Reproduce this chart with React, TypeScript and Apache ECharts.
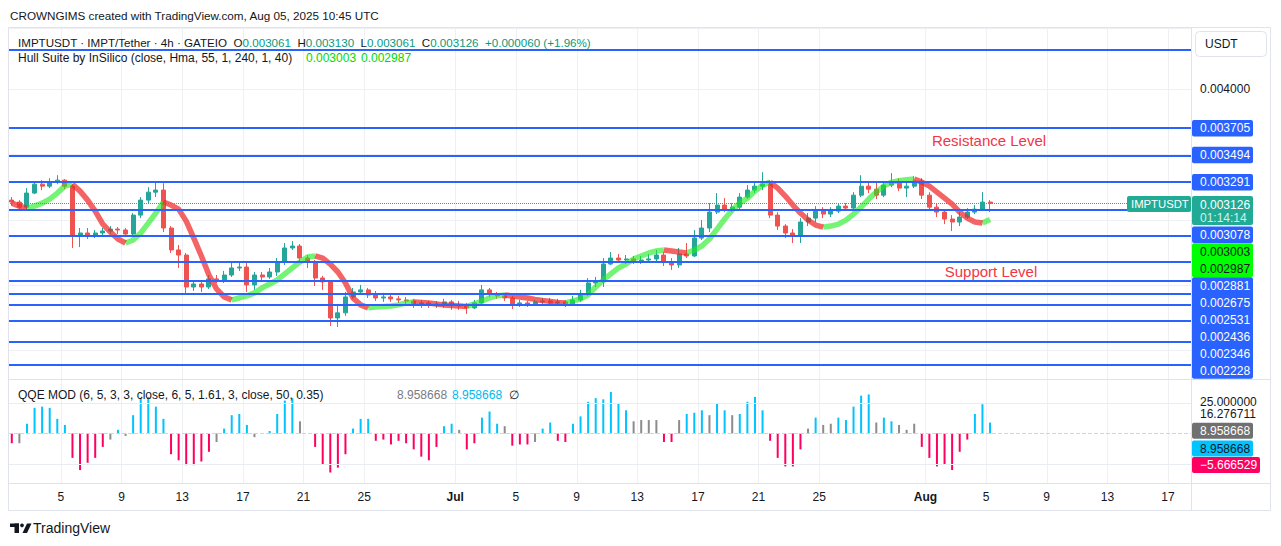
import React, { useEffect, useRef } from "react";
import * as echarts from "echarts";

// ---------- time slots (12h candles, aggregated reading of the 4h chart) ----------
const SLOT_START_UTC = Date.UTC(2025, 5, 1, 12, 0, 0);
const SLOT_MS = 12 * 3600 * 1000;
const SLOT_TOTAL = 156;
const categories: string[] = Array.from({ length: SLOT_TOTAL }, (_, k) =>
  new Date(SLOT_START_UTC + k * SLOT_MS).toISOString()
);
const tickDays = [5, 9, 13, 17, 21, 25];
const monthNames = ["Jan", "Feb", "Mar", "Apr", "May", "Jun", "Jul", "Aug", "Sep", "Oct", "Nov", "Dec"];

// ---------- candles: [open, close, low, high] ----------
const candles: number[][] = [
  [0.003151, 0.003136, 0.003113, 0.003174], [0.003136, 0.003097, 0.003082, 0.003151],
  [0.003097, 0.003205, 0.003082, 0.003243], [0.003205, 0.003273, 0.003197, 0.003296],
  [0.003273, 0.003258, 0.003228, 0.003304], [0.003258, 0.003289, 0.003243, 0.003319],
  [0.003289, 0.003304, 0.003273, 0.003342], [0.003304, 0.003258, 0.003235, 0.003312],
  [0.003258, 0.002883, 0.002784, 0.003273], [0.002883, 0.002899, 0.002791, 0.002937],
  [0.002899, 0.002883, 0.002853, 0.002937], [0.002883, 0.002899, 0.00286, 0.002922],
  [0.002899, 0.002914, 0.002876, 0.002937], [0.002914, 0.002929, 0.002891, 0.002952],
  [0.002929, 0.002922, 0.002891, 0.002944], [0.002922, 0.002891, 0.002868, 0.002937],
  [0.002891, 0.003036, 0.002876, 0.003052], [0.003036, 0.003151, 0.003013, 0.003174],
  [0.003151, 0.003212, 0.003128, 0.00325], [0.003212, 0.003228, 0.003174, 0.003296],
  [0.003228, 0.002937, 0.002906, 0.003281], [0.002937, 0.002769, 0.002746, 0.002952],
  [0.002769, 0.00273, 0.002631, 0.002807], [0.00273, 0.002485, 0.002424, 0.002746],
  [0.002485, 0.002508, 0.002455, 0.002539], [0.002508, 0.002485, 0.002447, 0.002531],
  [0.002485, 0.002547, 0.00247, 0.002577], [0.002547, 0.002539, 0.002516, 0.002577],
  [0.002539, 0.002577, 0.002516, 0.002608], [0.002577, 0.002631, 0.002562, 0.002669],
  [0.002631, 0.002638, 0.002608, 0.002669], [0.002638, 0.002501, 0.002447, 0.002669],
  [0.002501, 0.002577, 0.002463, 0.0026], [0.002577, 0.002562, 0.002531, 0.0026],
  [0.002562, 0.0026, 0.002547, 0.002631], [0.0026, 0.002677, 0.00257, 0.002707],
  [0.002677, 0.002784, 0.002654, 0.002822], [0.002784, 0.002799, 0.002769, 0.002837],
  [0.002799, 0.002707, 0.002677, 0.002814], [0.002707, 0.002677, 0.002631, 0.00273],
  [0.002677, 0.002554, 0.002493, 0.002692], [0.002554, 0.002524, 0.002463, 0.00257],
  [0.002524, 0.002248, 0.002187, 0.002531], [0.002248, 0.002287, 0.002179, 0.00234],
  [0.002287, 0.002409, 0.002264, 0.002447], [0.002409, 0.002447, 0.002394, 0.002478],
  [0.002447, 0.002463, 0.002432, 0.002501], [0.002463, 0.002424, 0.002401, 0.002478],
  [0.002424, 0.002401, 0.002378, 0.002455], [0.002401, 0.002409, 0.002371, 0.00244],
  [0.002409, 0.002394, 0.002371, 0.002424], [0.002394, 0.002386, 0.002363, 0.002417],
  [0.002386, 0.002378, 0.002355, 0.002409], [0.002378, 0.002355, 0.002325, 0.002394],
  [0.002355, 0.002363, 0.002325, 0.002386], [0.002363, 0.002348, 0.002325, 0.002378],
  [0.002348, 0.002355, 0.002325, 0.002378], [0.002355, 0.002371, 0.002325, 0.002394],
  [0.002371, 0.002348, 0.00231, 0.002386], [0.002348, 0.00234, 0.00231, 0.002378],
  [0.00234, 0.002325, 0.002279, 0.002363], [0.002325, 0.002363, 0.002317, 0.002386],
  [0.002363, 0.002463, 0.002348, 0.002501], [0.002463, 0.002432, 0.002409, 0.002478],
  [0.002432, 0.002417, 0.002394, 0.002447], [0.002417, 0.002401, 0.002378, 0.00244],
  [0.002401, 0.002348, 0.002317, 0.002417], [0.002348, 0.002363, 0.002332, 0.002386],
  [0.002363, 0.002355, 0.002332, 0.002378], [0.002355, 0.002371, 0.00234, 0.002386],
  [0.002371, 0.002378, 0.002348, 0.002401], [0.002378, 0.002363, 0.002348, 0.002401],
  [0.002363, 0.002371, 0.00234, 0.002394], [0.002371, 0.002355, 0.002332, 0.002386],
  [0.002355, 0.002386, 0.002348, 0.002417], [0.002386, 0.002432, 0.002371, 0.002463],
  [0.002432, 0.002516, 0.002417, 0.002554], [0.002516, 0.002524, 0.002485, 0.002562],
  [0.002524, 0.002661, 0.002485, 0.002707], [0.002661, 0.002707, 0.002654, 0.002753],
  [0.002707, 0.002692, 0.002669, 0.002738], [0.002692, 0.0027, 0.002661, 0.00273],
  [0.0027, 0.002684, 0.002661, 0.002723], [0.002684, 0.002692, 0.002661, 0.002723],
  [0.002692, 0.0027, 0.002669, 0.002738], [0.0027, 0.00273, 0.002677, 0.002769],
  [0.00273, 0.002677, 0.002646, 0.002753], [0.002677, 0.002654, 0.002616, 0.002707],
  [0.002654, 0.002738, 0.002631, 0.002784], [0.002738, 0.002723, 0.002707, 0.002822],
  [0.002723, 0.00286, 0.002715, 0.002922], [0.00286, 0.002937, 0.002845, 0.002998],
  [0.002937, 0.003059, 0.002906, 0.003128], [0.003059, 0.003113, 0.003044, 0.003205],
  [0.003113, 0.003082, 0.003059, 0.003166], [0.003082, 0.003097, 0.003059, 0.003128],
  [0.003097, 0.003174, 0.003082, 0.003205], [0.003174, 0.003228, 0.003159, 0.003266],
  [0.003228, 0.003258, 0.003205, 0.003289], [0.003258, 0.003273, 0.003228, 0.003365],
  [0.003273, 0.003036, 0.003013, 0.003304], [0.003036, 0.002952, 0.002922, 0.003059],
  [0.002952, 0.002899, 0.00286, 0.002967], [0.002899, 0.002883, 0.002822, 0.002929],
  [0.002883, 0.002983, 0.002822, 0.003013], [0.002983, 0.003013, 0.002952, 0.003052],
  [0.003013, 0.003075, 0.002983, 0.003105], [0.003075, 0.003044, 0.003013, 0.003097],
  [0.003044, 0.003067, 0.003021, 0.003097], [0.003067, 0.003105, 0.003052, 0.003128],
  [0.003105, 0.00309, 0.003075, 0.003128], [0.00309, 0.003189, 0.003082, 0.003212],
  [0.003189, 0.003258, 0.003174, 0.003342], [0.003258, 0.003235, 0.003205, 0.003289],
  [0.003235, 0.003189, 0.003159, 0.003289], [0.003189, 0.003266, 0.003174, 0.003289],
  [0.003266, 0.003289, 0.00325, 0.003358], [0.003289, 0.003243, 0.00322, 0.003319],
  [0.003243, 0.003258, 0.003174, 0.003289], [0.003258, 0.003296, 0.003243, 0.003335],
  [0.003296, 0.003189, 0.003159, 0.003319], [0.003189, 0.003097, 0.003075, 0.003212],
  [0.003097, 0.003059, 0.003021, 0.003128], [0.003059, 0.003006, 0.002967, 0.003075],
  [0.003006, 0.002983, 0.002914, 0.003036], [0.002983, 0.003021, 0.002952, 0.003059],
  [0.003021, 0.003059, 0.003006, 0.00309], [0.003059, 0.003082, 0.003044, 0.003113],
  [0.003082, 0.003136, 0.003067, 0.003212], [0.003136, 0.003126, 0.003059, 0.003151],
];

// ---------- Hull Suite (HMA 55) ----------
const hull: number[] = [
  0.003128, 0.003105, 0.00309, 0.003105, 0.003128, 0.003159, 0.003205, 0.003258, 0.003273, 0.00322,
  0.003151, 0.003067, 0.002967, 0.002906, 0.002853, 0.002822, 0.002845, 0.002899, 0.002975, 0.003052,
  0.003136, 0.003113, 0.003082, 0.00299, 0.00286, 0.002723, 0.002577, 0.00247, 0.002409, 0.002386,
  0.002401, 0.002417, 0.00244, 0.002478, 0.002508, 0.002539, 0.002585, 0.002631, 0.002677, 0.002715,
  0.002723, 0.002707, 0.002661, 0.0026, 0.002516, 0.002401, 0.002348, 0.002325, 0.002332, 0.002336,
  0.00234, 0.002348, 0.002363, 0.002371, 0.002367, 0.002363, 0.002355, 0.002348, 0.002344, 0.00234,
  0.002336, 0.002355, 0.002378, 0.002401, 0.002417, 0.002424, 0.002417, 0.002409, 0.002401, 0.00239,
  0.002382, 0.002375, 0.002367, 0.002363, 0.002378, 0.002394, 0.002424, 0.002485, 0.002539, 0.002585,
  0.002631, 0.002661, 0.0027, 0.002723, 0.002746, 0.002761, 0.002769, 0.002761, 0.002753, 0.002746,
  0.002769, 0.002799, 0.002853, 0.002929, 0.003006, 0.003075, 0.003128, 0.003166, 0.00322, 0.003266,
  0.003289, 0.003243, 0.003182, 0.003113, 0.003052, 0.002998, 0.00296, 0.002944, 0.002952, 0.002967,
  0.002998, 0.003044, 0.003097, 0.003159, 0.003212, 0.003258, 0.003289, 0.0033, 0.003308, 0.003312,
  0.003289, 0.003258, 0.003212, 0.003166, 0.00312, 0.003059, 0.003013, 0.002983, 0.002975, 0.003003,
];

// ---------- QQE MOD histogram ----------
const qqe: number[] = [
  -8, -8, 8, 21, 22, 21, 12, 7, -20, -30,
  -24, -20, -11, -5, 3, -2, 15, 29, 30, 22,
  12, -17, -22, -26, -26, -23, -15, -7, 4, 15,
  16, 7, -3, 0, 2, 16, 27, 29, 10, 0,
  -11, -25, -32, -28, -17, 4, 12, 12, -6, -5,
  -9, -6, -8, -13, -19, -22, -11, 6, 8, 3,
  -13, -8, 13, 18, 8, 6, -10, -9, -9, -7,
  4, 9, -6, -7, 8, 14, 26, 29, 28, 34,
  25, 19, 10, 11, 11, 11, -7, -7, 11, 16,
  17, 19, 15, 25, 19, 15, 16, 26, 30, 19,
  -6, -20, -27, -27, -13, 4, 13, 7, 8, 13,
  11, 22, 31, 32, 9, 13, 10, 7, 3, 8,
  -11, -20, -27, -25, -30, -15, -5, 16, 24, 8.958668,
];
// b = above upper band (blue), m = below lower band (magenta), g = neutral (gray)
const qqeState: string[] = [
  "m", "g", "b", "b", "b", "b", "b", "b", "m", "m",
  "m", "m", "m", "g", "b", "g", "b", "b", "b", "b",
  "b", "m", "m", "m", "m", "m", "m", "g", "b", "b",
  "b", "b", "g", "g", "b", "b", "b", "b", "g", "g",
  "m", "m", "m", "m", "m", "b", "b", "b", "m", "m",
  "m", "m", "m", "m", "m", "m", "m", "b", "b", "g",
  "m", "m", "b", "b", "b", "g", "m", "m", "m", "g",
  "b", "b", "m", "m", "b", "b", "b", "b", "b", "b",
  "b", "b", "g", "g", "g", "g", "m", "m", "g", "b",
  "b", "b", "g", "b", "b", "g", "b", "b", "b", "b",
  "m", "m", "m", "m", "m", "g", "b", "g", "g", "b",
  "b", "b", "b", "b", "g", "b", "b", "g", "g", "g",
  "m", "m", "m", "m", "m", "m", "m", "b", "b", "b",
];

// ---------- horizontal levels ----------
const levels: number[] = [
  0.0043, 0.003705, 0.003494, 0.003291, 0.003078, 0.002881, 0.002675,
  0.002531, 0.002436, 0.002346, 0.002228, 0.002065, 0.001889,
];
const lastPrice = 0.003126;

const FONT = '"Liberation Sans", Arial, Helvetica, sans-serif';
const UP = "#26a69a";
const DOWN = "#ef5350";
const LEVEL_BLUE = "#2962ff";
const TEAL = "#22ab94";
const QQE_COLORS: Record<string, string> = { b: "#00c3ff", m: "#ff0062", g: "#8c8c8c" };

function isLabelSlot(value: string): boolean {
  const d = new Date(value);
  if (d.getUTCHours() !== 0) return false;
  const day = d.getUTCDate();
  if (day === 1 && d.getUTCMonth() > 5) return true;
  return tickDays.indexOf(day) >= 0;
}

function txt(x: number, y: number, text: string, fill = "#131722", size = 12, extra: any = {}) {
  return {
    type: "text",
    x,
    y,
    z: 200,
    silent: true,
    style: {
      text,
      fill,
      font: `${extra.weight || "normal"} ${size}px ${FONT}`,
      textAlign: extra.align || "left",
      align: extra.align || "left",
      textVerticalAlign: "middle",
      verticalAlign: "middle",
      ...(extra.rich ? { rich: extra.rich } : {}),
    },
  };
}

function box(x: number, y: number, w: number, h: number, fill: string, extra: any = {}) {
  return {
    type: "rect",
    z: 190,
    silent: true,
    shape: { x, y, width: w, height: h, r: extra.r ?? 2 },
    style: { fill, stroke: extra.stroke || null, lineWidth: extra.stroke ? 1 : 0 },
  };
}

function line(x1: number, y1: number, x2: number, y2: number, color = "#e0e3eb") {
  return {
    type: "line",
    z: 180,
    silent: true,
    shape: { x1, y1, x2, y2 },
    style: { stroke: color, lineWidth: 1 },
  };
}

export default function App() {
  const ref = useRef<HTMLDivElement>(null);

  useEffect(() => {
    document.body.style.margin = "0";
    if (!ref.current) return;
    const chart = echarts.init(ref.current, undefined, { renderer: "svg" });

    // Hull coloured by direction
    const hullUp: (number | null)[] = hull.map(() => null);
    const hullDown: (number | null)[] = hull.map(() => null);
    for (let i = 1; i < hull.length; i++) {
      const target = hull[i] >= hull[i - 1] ? hullUp : hullDown;
      target[i - 1] = hull[i - 1];
      target[i] = hull[i];
    }

    const qqeData = qqe.map((v, i) => ({
      value: v,
      itemStyle: { color: QQE_COLORS[qqeState[i]] },
    }));

    const xLabelCommon = {
      interval: (_i: number, v: string) => isLabelSlot(v),
    };

    const graphics: any[] = [];
    // frame
    graphics.push({
      type: "rect",
      z: 170,
      silent: true,
      shape: { x: 8.5, y: 27.5, width: 1262, height: 483 },
      style: { fill: null, stroke: "#e0e3eb", lineWidth: 1 },
    });
    graphics.push(line(1191.5, 27.5, 1191.5, 510.5));
    graphics.push(line(8.5, 379.5, 1270.5, 379.5));
    graphics.push(line(8.5, 483.5, 1270.5, 483.5));

    // header
    graphics.push(txt(10, 15, "CROWNGIMS created with TradingView.com, Aug 05, 2025 10:45 UTC", "#131722", 11.7));
    graphics.push(
      txt(
        18,
        42,
        "{n|IMPTUSDT · IMPT/Tether · 4h · GATEIO}  {n|O}{v|0.003061}  {n|H}{v|0.003130}  {n|L}{v|0.003061}  {n|C}{v|0.003126}  {v|+0.000060 (+1.96%)}",
        "#131722",
        11.6,
        {
          rich: {
            n: { fill: "#131722", fontSize: 11.6, fontFamily: FONT, color: "#131722" },
            v: { fill: "#089981", fontSize: 11.6, fontFamily: FONT, color: "#089981" },
          },
        }
      )
    );
    graphics.push(txt(18, 58, "Hull Suite by InSilico (close, Hma, 55, 1, 240, 1, 40)", "#131722", 12));
    graphics.push(txt(306, 58, "0.003003", "#00d900", 12));
    graphics.push(txt(361, 58, "0.002987", "#00d900", 12));

    // annotations
    graphics.push(txt(989, 140, "Resistance Level", "#f23645", 15, { align: "center" }));
    graphics.push(txt(991, 271, "Support Level", "#f23645", 15, { align: "center" }));

    // price axis labels
    graphics.push(box(1195.5, 31.5, 71, 25, "#ffffff", { stroke: "#e0e3eb", r: 4 }));
    graphics.push(txt(1205, 44, "USDT", "#131722", 12));
    const LX = 1192;
    const LW = 61;
    graphics.push(box(LX, 120, LW, 16.5, LEVEL_BLUE));
    graphics.push(txt(1200, 128.3, "0.003705", "#ffffff"));
    graphics.push(box(LX, 146.7, LW, 16.5, LEVEL_BLUE));
    graphics.push(txt(1200, 155, "0.003494", "#ffffff"));
    graphics.push(box(LX, 174, LW, 16.5, LEVEL_BLUE));
    graphics.push(txt(1200, 182.3, "0.003291", "#ffffff"));
    graphics.push(box(1127, 196, 64, 16, TEAL));
    graphics.push(txt(1131, 204, "IMPTUSDT", "#ffffff", 11.3));
    graphics.push(box(LX, 196, LW, 29, TEAL));
    graphics.push(txt(1200, 204.5, "0.003126", "#ffffff"));
    graphics.push(txt(1200, 217.5, "01:14:14", "#d5f0eb"));
    graphics.push(box(LX, 226.5, LW, 16.5, LEVEL_BLUE));
    graphics.push(txt(1200, 234.8, "0.003078", "#ffffff"));
    graphics.push(box(LX, 243.3, LW, 34, "#00ff00"));
    graphics.push(txt(1200, 252, "0.003003", "#131722"));
    graphics.push(txt(1200, 268.5, "0.002987", "#131722"));
    graphics.push(box(LX, 277.3, LW, 101.5, LEVEL_BLUE));
    const stacked = ["0.002881", "0.002675", "0.002531", "0.002436", "0.002346", "0.002228"];
    stacked.forEach((s, k) => graphics.push(txt(1200, 285.8 + 17 * k, s, "#ffffff")));

    // QQE pane
    graphics.push(txt(18, 395, "QQE MOD (6, 5, 3, 3, close, 6, 5, 1.61, 3, close, 50, 0.35)", "#131722", 12));
    graphics.push(txt(397, 395, "8.958668", "#787b86", 12));
    graphics.push(txt(452, 395, "8.958668", "#00b8f0", 12));
    graphics.push(txt(509, 395, "∅", "#131722", 12));
    graphics.push(txt(1200, 401.5, "25.000000", "#131722"));
    graphics.push({ ...box(1193, 406.5, 70, 14, "#ffffff", { r: 0 }), z: 195 });
    graphics.push(txt(1200, 413.5, "16.276711", "#131722"));
    graphics.push(box(LX, 422.8, LW, 16, "#707070"));
    graphics.push(txt(1200, 431, "8.958668", "#ffffff"));
    graphics.push(box(LX, 440.5, LW, 16, "#00c3ff"));
    graphics.push(txt(1200, 448.5, "8.958668", "#131722"));
    graphics.push(box(LX, 457, 68, 16, "#ff0062"));
    graphics.push(txt(1200, 465, "−5.666529", "#ffffff"));

    // TradingView logo
    graphics.push({ type: "rect", z: 200, silent: true, shape: { x: 10, y: 523.5, width: 9, height: 3.5 }, style: { fill: "#131722" } });
    graphics.push({ type: "rect", z: 200, silent: true, shape: { x: 14.5, y: 523.5, width: 4.5, height: 9.5 }, style: { fill: "#131722" } });
    graphics.push({ type: "circle", z: 200, silent: true, shape: { cx: 22, cy: 525.3, r: 1.9 }, style: { fill: "#131722" } });
    graphics.push({ type: "polygon", z: 200, silent: true, shape: { points: [[22.5, 533], [27, 523.5], [31.5, 523.5], [27, 533]] }, style: { fill: "#131722" } });
    graphics.push(txt(33, 528, "TradingView", "#131722", 14));

    const option: any = {
      animation: false,
      backgroundColor: "#ffffff",
      textStyle: { fontFamily: FONT },
      grid: [
        { left: 8, top: 28, width: 1183, height: 351 },
        { left: 8, top: 380, width: 1183, height: 103 },
      ],
      xAxis: [
        {
          type: "category",
          gridIndex: 0,
          data: categories,
          boundaryGap: true,
          axisLine: { show: false },
          axisTick: { show: false },
          axisLabel: { show: false, ...xLabelCommon },
          splitLine: { show: true, ...xLabelCommon, lineStyle: { color: "#eef0f3", width: 1 } },
        },
        {
          type: "category",
          gridIndex: 1,
          data: categories,
          boundaryGap: true,
          axisLine: { show: false },
          axisTick: { show: false },
          axisLabel: {
            ...xLabelCommon,
            color: "#131722",
            fontSize: 12,
            fontFamily: FONT,
            margin: 8,
            padding: [0, 8, 0, 0],
            formatter: (v: string) => {
              const d = new Date(v);
              const day = d.getUTCDate();
              if (day === 1) return "{b|" + monthNames[d.getUTCMonth()] + "}";
              return String(day);
            },
            rich: { b: { fontWeight: "bold", fontSize: 12, color: "#131722", fontFamily: FONT } },
          },
          splitLine: { show: true, ...xLabelCommon, lineStyle: { color: "#eef0f3", width: 1 } },
        },
      ],
      yAxis: [
        {
          type: "value",
          gridIndex: 0,
          position: "right",
          min: 0.00178,
          max: 0.00447,
          splitNumber: 5,
          axisLine: { show: false },
          axisTick: { show: false },
          axisLabel: {
            color: "#131722",
            fontSize: 12,
            fontFamily: FONT,
            margin: 9,
            formatter: (v: number) => (Math.abs(v - 0.004) < 1e-9 ? "0.004000" : ""),
          },
          splitLine: { show: true, lineStyle: { color: "#eef0f3", width: 1 } },
        },
        {
          type: "value",
          gridIndex: 1,
          position: "right",
          min: -40.6,
          max: 43.85,
          axisLine: { show: false },
          axisTick: { show: false },
          axisLabel: { show: false },
          splitLine: { show: false },
        },
      ],
      series: [
        {
          type: "candlestick",
          name: "IMPTUSDT",
          xAxisIndex: 0,
          yAxisIndex: 0,
          data: candles,
          barWidth: 4.5,
          itemStyle: {
            color: UP,
            color0: DOWN,
            borderColor: UP,
            borderColor0: DOWN,
            borderWidth: 1,
          },
          z: 2,
          markLine: {
            silent: true,
            precision: 6,
            symbol: ["none", "none"],
            label: { show: false },
            data: [
              ...levels.map((v) => ({ yAxis: v, lineStyle: { color: LEVEL_BLUE, width: 2, type: "solid" } })),
              { yAxis: lastPrice, lineStyle: { color: TEAL, width: 1, type: "dotted" } },
            ],
          },
        },
        {
          type: "line",
          name: "Hull up",
          xAxisIndex: 0,
          yAxisIndex: 0,
          data: hullUp,
          showSymbol: false,
          connectNulls: false,
          lineStyle: { color: "rgba(30, 235, 30, 0.62)", width: 5.5 },
          z: 3,
        },
        {
          type: "line",
          name: "Hull down",
          xAxisIndex: 0,
          yAxisIndex: 0,
          data: hullDown,
          showSymbol: false,
          connectNulls: false,
          lineStyle: { color: "rgba(240, 40, 40, 0.72)", width: 5.5 },
          z: 3,
        },
        {
          type: "bar",
          name: "QQE MOD",
          xAxisIndex: 1,
          yAxisIndex: 1,
          data: qqeData,
          barWidth: 2,
          markLine: {
            silent: true,
            precision: 6,
            symbol: ["none", "none"],
            label: { show: false },
            data: [
              { yAxis: 25, lineStyle: { color: "#e9ecf1", width: 1, type: "solid" } },
              { yAxis: -25, lineStyle: { color: "#e9ecf1", width: 1, type: "solid" } },
              { yAxis: 0, lineStyle: { color: "#d1d4dc", width: 1, type: "dashed" } },
            ],
          },
        },
      ],
      graphic: { elements: graphics },
    };

    chart.setOption(option);
    return () => chart.dispose();
  }, []);

  return <div ref={ref} style={{ width: 1281, height: 546 }} />;
}
